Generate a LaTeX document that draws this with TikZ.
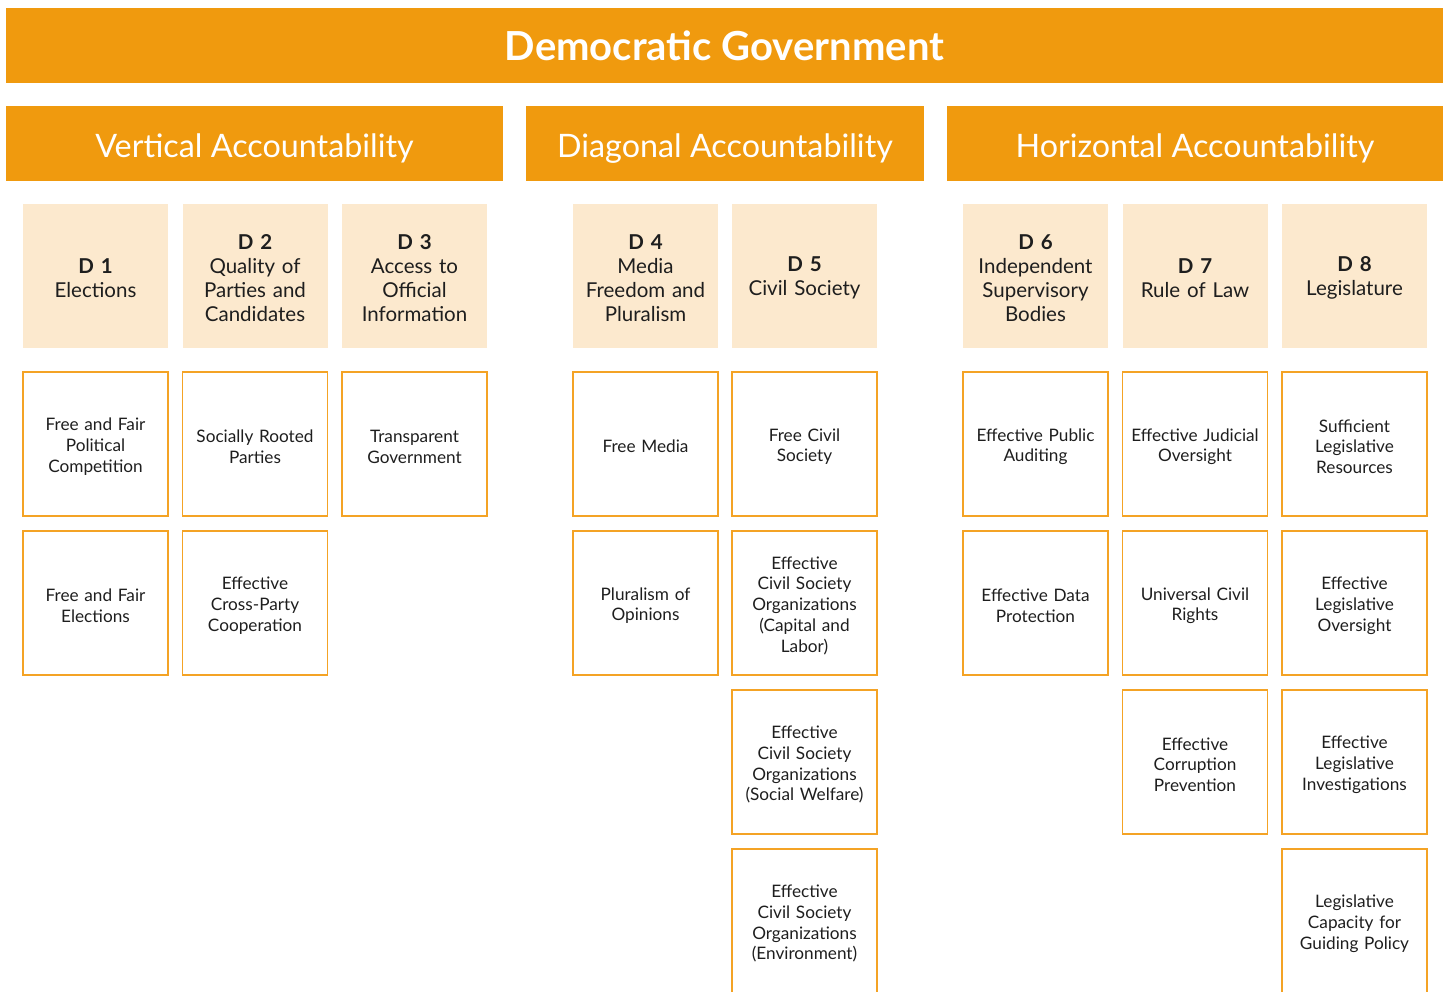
\documentclass[tikz,border=0pt]{standalone}
\usepackage{fontspec}
\setmainfont{Lato}
\usetikzlibrary{positioning}
\definecolor{orangeband}{HTML}{F09A0E}
\definecolor{creamfill}{HTML}{FCE9CE}
\definecolor{orangeline}{HTML}{F4A325}
\definecolor{inktext}{HTML}{1E1E1E}
\tikzset{
  headline/.style={fill=orangeband, text=white, minimum height=75pt, inner sep=0pt, outer sep=0pt,
    text height=29.5pt, text depth=0pt, font=\bfseries\fontsize{40}{48}\selectfont},
  pillar/.style={fill=orangeband, text=white, minimum height=75pt, inner sep=0pt, outer sep=0pt,
    text height=28pt, text depth=0pt, font=\fontsize{32.3}{40}\selectfont},
  dimension/.style={fill=creamfill, text=inktext, minimum width=145pt, minimum height=144pt,
    inner sep=2pt, outer sep=0pt, text width=140pt, align=center, font=\fontsize{20.5}{24}\selectfont,
    execute at begin node={\rule{0pt}{19pt}}},
  indicator/.style={draw=orangeline, line width=1.3pt, text=inktext, minimum width=145pt, minimum height=144pt,
    inner sep=2pt, outer sep=0pt, text width=140pt, align=center, font=\fontsize{17.2}{20.8}\selectfont,
    execute at begin node={\rule{0pt}{18pt}}}
}
\begin{document}
\begin{tikzpicture}[x=1pt, y=-1pt]
  \useasboundingbox (0,0) rectangle (1451,991);
  % top level and the three pillars
  \node[headline, minimum width=1437pt] (top) at (724.5,45.5) {Democratic Government};
  \node[pillar, minimum width=497pt] (vert) at (254.5,143.5) {Vertical Accountability};
  \node[pillar, minimum width=398pt] (diag) at (725,143.5) {Diagonal Accountability};
  \node[pillar, minimum width=496pt] (hori) at (1195,143.5) {Horizontal Accountability};
  % dimensions
  \node[dimension] (d_1) at (95.5,276) {\textbf{D 1}\\Elections};
  \node[dimension] (d_2) [right=14.5pt of d_1] {\textbf{D 2}\\Quality of\\Parties and\\Candidates};
  \node[dimension] (d_3) [right=14.5pt of d_2] {\textbf{D 3}\\Access to\\Official\\Information};
  \node[dimension] (d_4) at (645.5,276) {\textbf{D 4}\\Media\\Freedom and\\Pluralism};
  \node[dimension] (d_5) [right=14pt of d_4] {\textbf{D 5}\\Civil Society};
  \node[dimension] (d_6) at (1035.5,276) {\textbf{D 6}\\Independent\\Supervisory\\Bodies};
  \node[dimension] (d_7) [right=14.5pt of d_6] {\textbf{D 7}\\Rule of Law};
  \node[dimension] (d_8) [right=14.5pt of d_7] {\textbf{D 8}\\Legislature};
  % indicators, D 1 to D 3
  \node[indicator] (d_1a) [below=24pt of d_1] {Free and Fair\\Political\\Competition};
  \node[indicator] (d_1b) [below=15pt of d_1a] {Free and Fair\\Elections};
  \node[indicator] (d_2a) [below=24pt of d_2] {Socially Rooted\\Parties};
  \node[indicator] (d_2b) [below=15pt of d_2a] {Effective\\Cross-Party\\Cooperation};
  \node[indicator] (d_3a) [below=24pt of d_3] {Transparent\\Government};
  % indicators, D 4 and D 5
  \node[indicator] (d_4a) [below=24pt of d_4] {Free Media};
  \node[indicator] (d_4b) [below=15pt of d_4a] {Pluralism of\\Opinions};
  \node[indicator] (d_5a) [below=24pt of d_5] {Free Civil\\Society};
  \node[indicator] (d_5b) [below=15pt of d_5a] {Effective\\Civil Society\\Organizations\\(Capital and\\Labor)};
  \node[indicator] (d_5c) [below=15pt of d_5b] {Effective\\Civil Society\\Organizations\\(Social Welfare)};
  \node[indicator] (d_5d) [below=15pt of d_5c] {Effective\\Civil Society\\Organizations\\(Environment)};
  % indicators, D 6 to D 8
  \node[indicator] (d_6a) [below=24pt of d_6] {Effective Public\\Auditing};
  \node[indicator] (d_6b) [below=15pt of d_6a] {Effective Data\\Protection};
  \node[indicator] (d_7a) [below=24pt of d_7] {Effective Judicial\\Oversight};
  \node[indicator] (d_7b) [below=15pt of d_7a] {Universal Civil\\Rights};
  \node[indicator] (d_7c) [below=15pt of d_7b] {Effective\\Corruption\\Prevention};
  \node[indicator] (d_8a) [below=24pt of d_8] {Sufficient\\Legislative\\Resources};
  \node[indicator] (d_8b) [below=15pt of d_8a] {Effective\\Legislative\\Oversight};
  \node[indicator] (d_8c) [below=15pt of d_8b] {Effective\\Legislative\\Investigations};
  \node[indicator] (d_8d) [below=15pt of d_8c] {Legislative\\Capacity for\\Guiding Policy};
\end{tikzpicture}
\end{document}
